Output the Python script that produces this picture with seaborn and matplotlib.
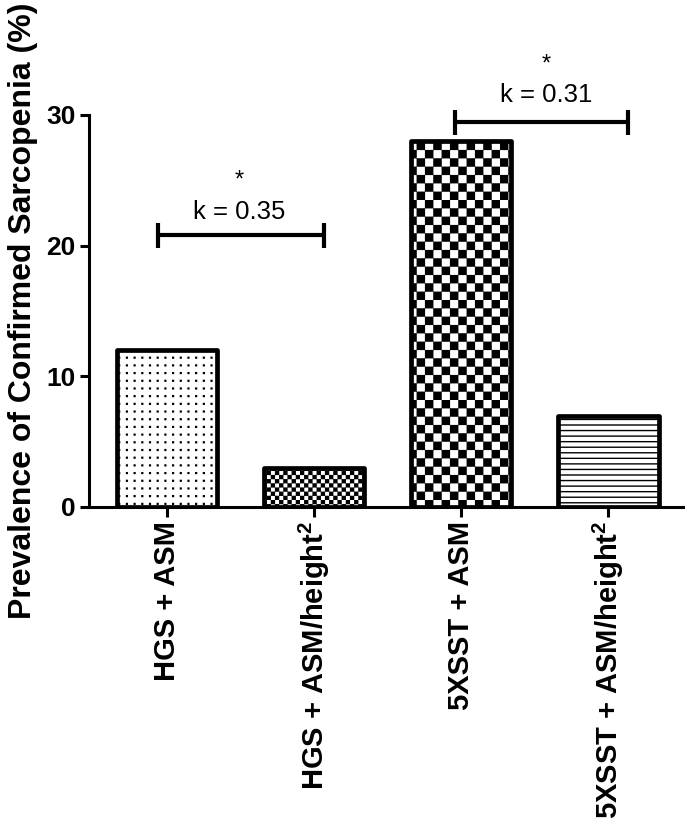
import warnings
import numpy as np
import pandas as pd
import matplotlib
matplotlib.use("Agg")
import matplotlib.pyplot as plt
import matplotlib.hatch as mhatch
from matplotlib.path import Path
import seaborn as sns

warnings.filterwarnings("ignore")

# =========================
# DATA
# =========================

methods = ["HGS + ASM", "HGS + ASM/height$^{\\mathbf{2}}$",
           "5XSST + ASM", "5XSST + ASM/height$^{\\mathbf{2}}$"]
prevalence = [12, 3, 28, 7]
patterns = ["p", "cc", "c", "---"]

# agreement brackets: (start, end) in category units, height, kappa text
bracket_x = [(-0.06, 1.07), (1.96, 3.13)]
bracket_y = [20.8, 29.5]
kappa_labels = ["k = 0.35", "k = 0.31"]
kappa_x = [0.49, 2.58]
kappa_y = [22.6, 31.5]
star_y = [25.0, 33.9]


# =========================
# CUSTOM HATCHES (checkerboard + dot grid)
# =========================

SQ_CODES = [Path.MOVETO, Path.LINETO, Path.LINETO, Path.LINETO, Path.CLOSEPOLY]


class CheckerHatch(mhatch.HatchPatternBase):
    def __init__(self, hatch, density):
        self.n = hatch.count("c") * 12
        self.num_vertices = (self.n * self.n // 2) * 5

    def set_vertices_and_codes(self, vertices, codes):
        s = 1.0 / self.n
        d = 0.006
        sq = np.array([[d, d], [s - d, d], [s - d, s - d], [d, s - d], [d, d]])
        k = 0
        for i in range(self.n):
            for j in range(self.n):
                if (i + j) % 2 == 0:
                    vertices[k:k + 5] = sq + [i * s, j * s]
                    codes[k:k + 5] = SQ_CODES
                    k += 5


class DotHatch(mhatch.HatchPatternBase):
    def __init__(self, hatch, density):
        self.n = hatch.count("p") * 13
        self.num_vertices = self.n * self.n * 5

    def set_vertices_and_codes(self, vertices, codes):
        s = 1.0 / self.n
        d = 0.004
        sq = np.array([[-d, -d], [d, -d], [d, d], [-d, d], [-d, -d]])
        k = 0
        for i in range(self.n):
            for j in range(self.n):
                vertices[k:k + 5] = sq + [(i + 0.5) * s, (j + 0.5) * s]
                codes[k:k + 5] = SQ_CODES
                k += 5


mhatch._hatch_types.extend([CheckerHatch, DotHatch])

# =========================
# STYLE
# =========================

sns.set_style("ticks")
plt.rcParams["font.family"] = ["Liberation Sans", "DejaVu Sans"]
plt.rcParams["mathtext.fontset"] = "custom"
plt.rcParams["mathtext.bf"] = "Liberation Sans:bold"
plt.rcParams["mathtext.rm"] = "Liberation Sans:bold"
plt.rcParams["hatch.linewidth"] = 1.0
for key in ["text.color", "axes.labelcolor", "xtick.color", "ytick.color",
            "axes.edgecolor"]:
    plt.rcParams[key] = "black"

df = pd.DataFrame({"method": methods, "prevalence": prevalence})

fig = plt.figure(figsize=(6.85, 8.3), dpi=100)
ax = fig.add_axes([89 / 685, 1 - 507 / 830, 596 / 685, 392 / 830])

sns.barplot(data=df, x="method", y="prevalence", color="white",
            edgecolor="black", linewidth=3.4, width=0.68, ax=ax)

for bar, pat in zip(ax.patches, patterns):
    bar.set_hatch(pat)
    bar.set_joinstyle("round")
    bar.set_facecolor("white")
    bar.set_edgecolor("black")

ax.set_xlim(-0.53, 3.52)
ax.set_ylim(0, 30)
ax.set_yticks([0, 10, 20, 30])

for side in ["top", "right"]:
    ax.spines[side].set_visible(False)
for side in ["left", "bottom"]:
    ax.spines[side].set_linewidth(2.2)

ax.tick_params(axis="y", length=6.5, width=2.2, labelsize=19, pad=3)
ax.tick_params(axis="x", length=7, width=2.2, labelsize=21, pad=3,
               labelrotation=90)
for lab in ax.get_xticklabels() + ax.get_yticklabels():
    lab.set_fontweight("bold")

ax.set_xlabel("")
ax.set_ylabel("Prevalence of Confirmed Sarcopenia (%)", fontsize=23,
              fontweight="bold", labelpad=6)

# =========================
# AGREEMENT BRACKETS
# =========================

for (x0, x1), y, lab, tx, ty, sy in zip(bracket_x, bracket_y, kappa_labels,
                                       kappa_x, kappa_y, star_y):
    ax.plot([x0, x1], [y, y], color="black", lw=3, marker="|", ms=18,
            mew=3, clip_on=False, solid_capstyle="butt")
    ax.text(tx, ty, lab, ha="center", va="center", fontsize=18.5,
            clip_on=False)
    ax.text(tx, sy, "*", ha="center", va="center", fontsize=17,
            clip_on=False)

fig.savefig("out.png", dpi=100)
